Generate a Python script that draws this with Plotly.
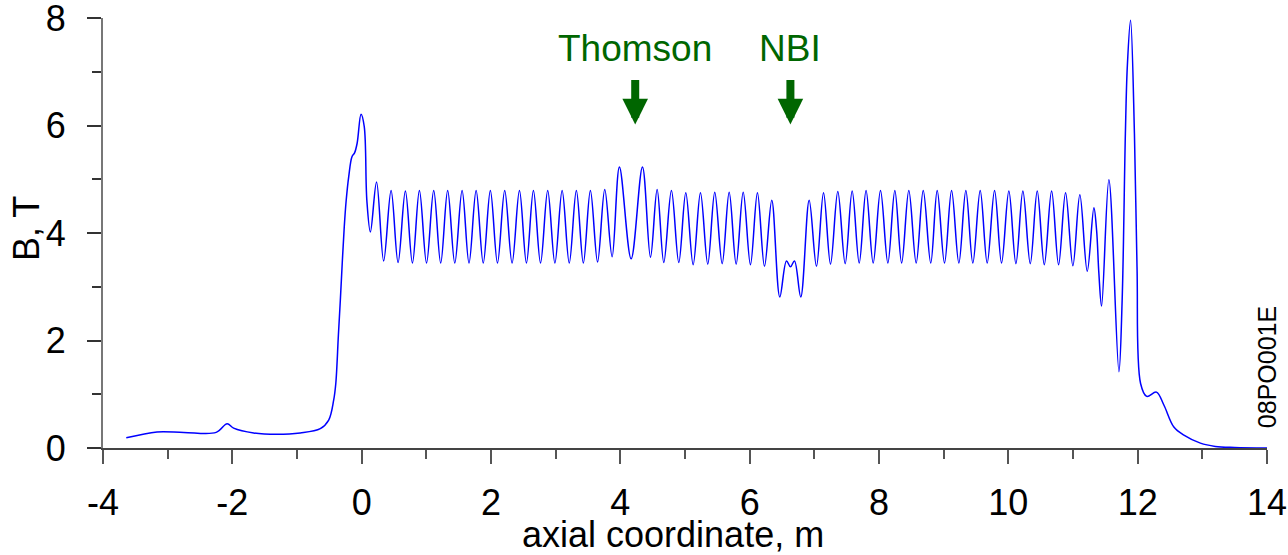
import plotly.graph_objects as go

# Axial magnetic field profile
axial_m = [
    -3.64, -3.165, -2.75, -2.25, -2.08, -1.98, -1.67, -1.31, -0.95, -0.64, -0.51,
    -0.433, -0.40, -0.36, -0.33, -0.30, -0.27, -0.24, -0.20, -0.15, -0.11, -0.07, -0.01,
    0.04, 0.08, 0.135, 0.23, 0.34,
    0.455, 0.563, 0.676, 0.785, 0.893, 1.003, 1.114, 1.222, 1.33, 1.44, 1.553, 1.66,
    1.77, 1.88, 1.99, 2.10, 2.212, 2.326, 2.44, 2.548, 2.656, 2.766, 2.877, 2.988,
    3.10, 3.21, 3.32, 3.428, 3.537, 3.648, 3.759, 3.873,
    3.986, 4.167, 4.342, 4.466, 4.569, 4.672, 4.79, 4.904, 5.012, 5.126, 5.239, 5.352,
    5.46, 5.575, 5.683, 5.791, 5.90, 6.012, 6.12, 6.229, 6.342, 6.466, 6.569, 6.631,
    6.693, 6.79, 6.92, 7.033, 7.142, 7.25, 7.363, 7.477, 7.585, 7.694, 7.80, 7.91,
    8.023, 8.137, 8.245, 8.35, 8.461, 8.575, 8.684, 8.80, 8.90, 9.013, 9.122, 9.235,
    9.343, 9.451, 9.565, 9.673, 9.787, 9.895, 10.008, 10.117, 10.225, 10.339, 10.447,
    10.556, 10.669, 10.777, 10.885, 10.998, 11.106, 11.22, 11.323, 11.365, 11.40,
    11.442, 11.555, 11.71, 11.76, 11.81, 11.84, 11.89, 11.95, 11.99, 12.045, 12.14,
    12.29, 12.405, 12.56, 12.715, 12.97, 13.2, 13.5, 14.0,
]
field_T = [
    0.19, 0.30, 0.29, 0.29, 0.45, 0.37, 0.28, 0.255, 0.28, 0.36, 0.52,
    0.89, 1.2, 2.1, 2.75, 3.45, 4.1, 4.6, 5.05, 5.42, 5.49, 5.67, 6.21,
    5.98, 4.61, 4.02, 4.95, 3.48,
    4.79, 3.45, 4.78, 3.44, 4.79, 3.44, 4.79, 3.44, 4.79, 3.44, 4.79, 3.44,
    4.79, 3.44, 4.79, 3.44, 4.79, 3.44, 4.79, 3.44, 4.79, 3.44, 4.79, 3.44,
    4.79, 3.44, 4.79, 3.44, 4.79, 3.46, 4.81, 3.56,
    5.23, 3.52, 5.23, 3.55, 4.81, 3.45, 4.79, 3.45, 4.75, 3.41, 4.75, 3.42,
    4.76, 3.43, 4.76, 3.42, 4.76, 3.41, 4.75, 3.38, 4.61, 2.81, 3.48, 3.37,
    3.48, 2.81, 4.61, 3.38, 4.75, 3.42, 4.77, 3.43, 4.78, 3.44, 4.79, 3.44,
    4.79, 3.44, 4.79, 3.44, 4.79, 3.44, 4.79, 3.44, 4.79, 3.44, 4.79, 3.44,
    4.79, 3.44, 4.79, 3.44, 4.79, 3.44, 4.78, 3.43, 4.78, 3.43, 4.78,
    3.41, 4.78, 3.41, 4.75, 3.39, 4.71, 3.29, 4.47, 4.05, 3.25,
    2.64, 4.99, 1.42, 2.75, 5.85, 7.10, 7.96, 5.85, 3.37, 1.20, 0.96,
    1.04, 0.80, 0.39, 0.24, 0.09, 0.03, 0.01, 0.0,
]

x_tick_vals = [-4, -2, 0, 2, 4, 6, 8, 10, 12, 14]
y_tick_vals = [0, 2, 4, 6, 8]

markers = ["Thomson", "NBI"]
marker_pos_m = [4.23, 6.63]

GREEN = "#006600"
FONT = "Liberation Sans, Arial, sans-serif"

fig = go.Figure()
fig.add_trace(go.Scatter(
    x=axial_m, y=field_T, mode="lines",
    line=dict(color="#0000ff", width=1.5, shape="spline", smoothing=1.0),
    showlegend=False, hoverinfo="x+y",
))

annotations = []
for name, xm in zip(markers, marker_pos_m):
    annotations.append(dict(
        x=xm, y=7.43, xref="x", yref="y", text=name, showarrow=False,
        font=dict(family=FONT, size=37, color=GREEN),
        xanchor="center", yanchor="middle",
    ))
    annotations.append(dict(
        x=xm, y=6.02, xref="x", yref="y", text="", showarrow=True,
        ax=0, ay=-46, axref="pixel", ayref="pixel",
        arrowhead=2, arrowwidth=8, arrowsize=0.64, arrowcolor=GREEN,
    ))

annotations += [
    dict(text="axial coordinate, m", x=0.49, y=-0.202, xref="paper", yref="paper",
         showarrow=False, xanchor="center", yanchor="middle",
         font=dict(family=FONT, size=36, color="black")),
    dict(text="B, T", x=-0.0655, y=0.511, xref="paper", yref="paper",
         showarrow=False, xanchor="center", yanchor="middle", textangle=-90,
         font=dict(family=FONT, size=36, color="black")),
    dict(text="08PO001E", x=1.0, y=0.188, xref="paper", yref="paper",
         showarrow=False, xanchor="center", yanchor="middle", textangle=-90,
         font=dict(family=FONT, size=25, color="black")),
]

fig.update_layout(
    width=1288, height=555,
    margin=dict(l=103, r=21, t=18, b=107, autoexpand=False),
    paper_bgcolor="white", plot_bgcolor="white",
    annotations=annotations,
    font=dict(family=FONT, color="black"),
)
fig.update_xaxes(
    range=[-4, 14], tickvals=x_tick_vals, ticktext=[str(v) for v in x_tick_vals],
    automargin=False, ticklabeloverflow="allow",
    showgrid=False, zeroline=False, showline=True, linecolor="#444444", linewidth=2,
    ticks="outside", ticklen=14, tickwidth=1.5, tickcolor="#555555",
    tickfont=dict(family=FONT, size=36, color="black"), ticklabelstandoff=8,
    minor=dict(dtick=1, tick0=0, ticks="outside", ticklen=9, tickwidth=1.5,
               tickcolor="#555555", showgrid=False),
)
fig.update_yaxes(
    range=[0, 8], tickvals=y_tick_vals, ticktext=[str(v) for v in y_tick_vals],
    automargin=False, ticklabeloverflow="allow",
    showgrid=False, zeroline=False, showline=True, linecolor="#777777", linewidth=2,
    ticks="outside", ticklen=14, tickwidth=1.5, tickcolor="#333333",
    tickfont=dict(family=FONT, size=36, color="black"), ticklabelstandoff=14,
    minor=dict(dtick=1, tick0=0, ticks="outside", ticklen=9, tickwidth=1.5,
               tickcolor="#333333", showgrid=False),
)

fig.write_html(
    "out.html",
    config={"displayModeBar": False},
    post_script="document.body.style.margin='0px';document.body.style.overflow='hidden';",
)
